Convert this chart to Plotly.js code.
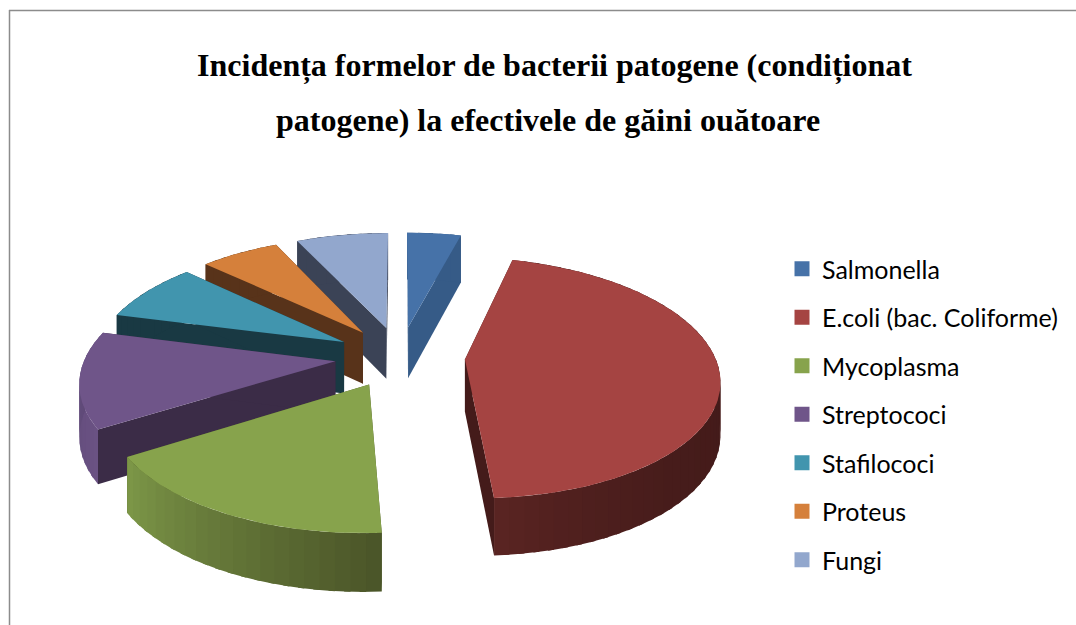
<!DOCTYPE html>
<html><head><meta charset="utf-8">
<script src="https://cdn.plot.ly/plotly-3.0.1.min.js"></script>
<style>html,body{margin:0;padding:0;background:#fff}#c{width:1076px;height:625px}</style>
</head><body><div id="c"></div>
<script>
const titleLine1 = "Incidența formelor de bacterii patogene (condiționat";
const titleLine2 = "patogene) la efectivele de găini ouătoare";
const categories = ["Salmonella","E.coli (bac. Coliforme)","Mycoplasma","Streptococi","Stafilococi","Proteus","Fungi"];
const values = [4.1,44.95,17.05,12.9,8,6,7];

const topColors  = ["#4672a8","#a54442","#87a34c","#6f5589","#4195ae","#d5803b","#92a7cd"];
const faceColors = ["#365b87","#441b1a","#4a5428","#3b2c47","#193943","#58331a","#3b4356"];
const wallFrom   = ["#365b87","#441b1a","#4a5428","#6a5284","#193943","#58331a","#3b4356"];
const wallTo     = ["#365b87","#5a2422","#7d9848","#5f4a78","#193943","#58331a","#3b4356"];
const wallCurve  = [1,3,1,1,1,1,1];
const drawOrder  = [0,6,5,4,3,1,2];

// view of the 3-D pie (pixel axes)
const CX=400, CY=356.5, RX=250, RY=117, PERSP=0.15, EXPLODE=0.26, DEPTH=52;

function project(u,v,z){
  const s=1/(1-PERSP*v);
  return [CX+RX*u*s, CY+RY*v*s+z*DEPTH*Math.pow(s,0.6)];
}
function hex(c){return [1,3,5].map(i=>parseInt(c.substr(i,2),16));}
function lerp(a,b,t){const A=hex(a),B=hex(b);return "rgb("+A.map((x,i)=>Math.round(x+(B[i]-x)*t)).join(",")+")";}

const total=values.reduce((a,b)=>a+b,0);
const starts=[];let acc=0;values.forEach(v=>{starts.push(acc);acc+=v/total*360;});

const traces=[];
// legend keys
categories.forEach((name,i)=>traces.push({type:"scatter",mode:"markers",x:[null],y:[null],name:name,legendgroup:"g"+i,
  marker:{symbol:"square",size:15,color:topColors[i]},hoverinfo:"skip"}));

function poly(points,color,lw){
  const xs=points.map(p=>p[0]),ys=points.map(p=>p[1]);
  traces.push({type:"scatter",mode:"lines",x:xs.concat(xs[0]),y:ys.concat(ys[0]),fill:"toself",fillcolor:color,
    line:{color:color,width:lw},showlegend:false,hoverinfo:"skip"});
}
drawOrder.forEach(i=>{
  const a0=starts[i],a1=a0+values[i]/total*360,mid=(a0+a1)/2*Math.PI/180;
  const ou=EXPLODE*Math.sin(mid),ov=-EXPLODE*Math.cos(mid);
  const rim=d=>[ou+Math.sin(d*Math.PI/180),ov-Math.cos(d*Math.PI/180)];
  const face=d=>{const r=rim(d);return [project(ou,ov,0),project(r[0],r[1],0),project(r[0],r[1],1),project(ou,ov,1)];};
  poly(face(a0),faceColors[i],0);
  poly(face(a1),faceColors[i],0);
  const n=Math.max(2,Math.ceil((a1-a0)/3));
  const visA=Math.max(a0,90),visB=Math.min(a1,270);
  // Strips are painted in order and each one runs a little under the next, so no seams show.
  for(let k=0;k<n;k++){
    const d0=a0+(a1-a0)*k/n,dn=a0+(a1-a0)*(k+1)/n,d1=Math.min(a1,dn+1.2);
    const pts=[];
    for(let m=0;m<=4;m++){const r=rim(d0+(d1-d0)*m/4);pts.push(project(r[0],r[1],0));}
    for(let m=4;m>=0;m--){const r=rim(d0+(d1-d0)*m/4);pts.push(project(r[0],r[1],1));}
    const t=visB>visA?Math.min(1,Math.max(0,((d0+dn)/2-visA)/(visB-visA))):0;
    poly(pts,lerp(wallFrom[i],wallTo[i],Math.pow(t,wallCurve[i])),0);
  }
  const top=[project(ou,ov,0)];
  for(let k=0;k<=n*2;k++){const r=rim(a0+(a1-a0)*k/(n*2));top.push(project(r[0],r[1],0));}
  poly(top,topColors[i],0);
});

const layout={
  width:1076,height:625,margin:{l:0,r:0,t:0,b:0},paper_bgcolor:"#fff",plot_bgcolor:"#fff",
  xaxis:{range:[0,1076],visible:false,fixedrange:true},
  yaxis:{range:[625,0],visible:false,fixedrange:true},
  title:{text:"<b>"+titleLine1+"</b>",x:554.5/1076,xanchor:"center",xref:"paper",y:1-65/625,yanchor:"middle",
    font:{family:"Liberation Serif",size:32,color:"#000"}},
  annotations:[{text:"<b>"+titleLine2+"</b>",xref:"paper",yref:"paper",x:548/1076,y:1-120/625,xanchor:"center",yanchor:"middle",
    showarrow:false,font:{family:"Liberation Serif",size:32,color:"#000"}}],
  legend:{x:782/1076,xanchor:"left",y:1-246/625,yanchor:"top",font:{family:"Lato",size:25,color:"#000"},
    tracegroupgap:13,bgcolor:"rgba(0,0,0,0)",borderwidth:0,itemclick:false,itemdoubleclick:false},
  shapes:[
    {type:"line",xref:"x",yref:"y",x0:9,y0:10.5,x1:1076,y1:10.5,line:{color:"#8c8c8c",width:1.5}},
    {type:"line",xref:"x",yref:"y",x0:9.5,y0:10,x1:9.5,y1:625,line:{color:"#8c8c8c",width:1.5}}
  ]
};
Plotly.newPlot("c",traces,layout,{displayModeBar:false,staticPlot:true});
</script></body></html>
